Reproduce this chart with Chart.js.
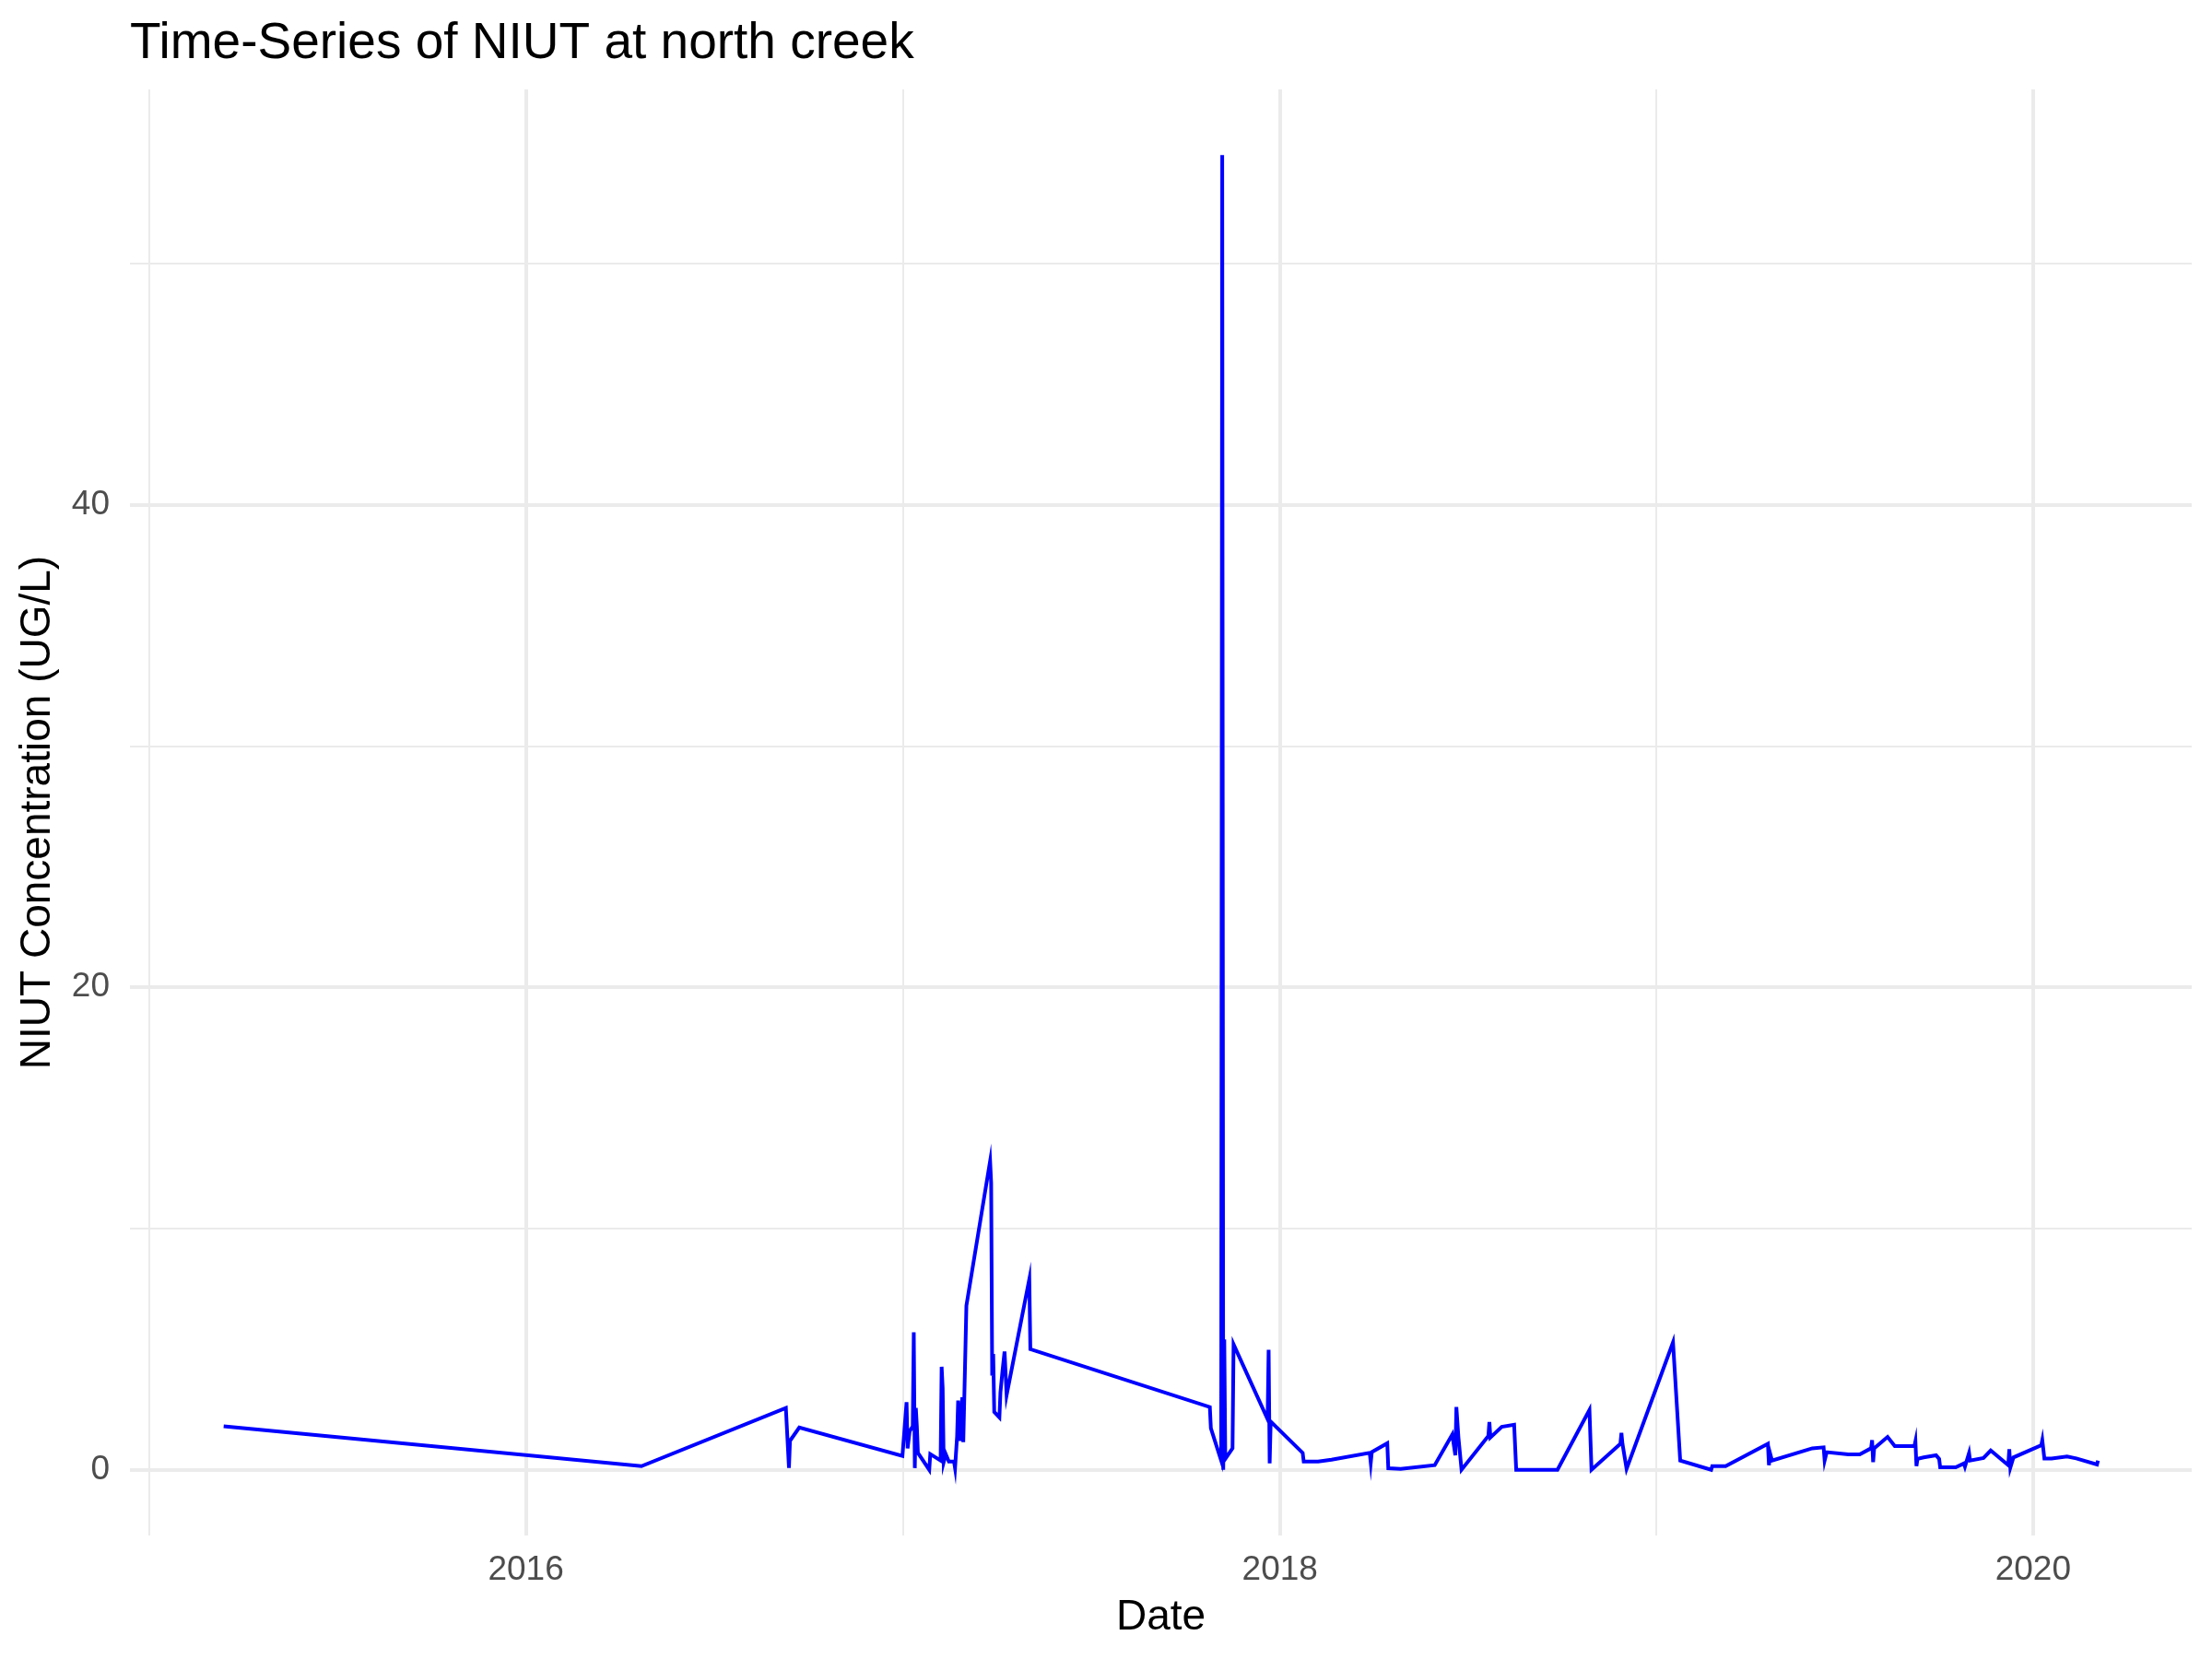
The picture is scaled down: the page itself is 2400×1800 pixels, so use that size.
<!DOCTYPE html>
<html>
<head>
<meta charset="utf-8">
<script src="https://cdn.jsdelivr.net/npm/chart.js@4/dist/chart.umd.min.js"></script>
<style>
  html, body { margin: 0; padding: 0; background: #fff; }
  #wrap { width: 2400px; height: 1800px; }
</style>
</head>
<body>
<div id="wrap"><canvas id="ts-chart" width="2400" height="1800"></canvas></div>
<script>
// sample dates and NIUT readings (UG/L)
const sampleDates = [
  "2015-03-14", "2016-04-22", "2016-09-09", "2016-09-12", "2016-09-13", "2016-09-22", "2016-12-31",
  "2017-01-04", "2017-01-05", "2017-01-07", "2017-01-10", "2017-01-11", "2017-01-12", "2017-01-13",
  "2017-01-14", "2017-01-15", "2017-01-26", "2017-01-27", "2017-02-06", "2017-02-07", "2017-02-08",
  "2017-02-09", "2017-02-11", "2017-02-14", "2017-02-19", "2017-02-20", "2017-02-22", "2017-02-23",
  "2017-02-25", "2017-02-27", "2017-02-28", "2017-03-02", "2017-03-03", "2017-03-26", "2017-03-27",
  "2017-03-28", "2017-03-29", "2017-03-30", "2017-04-04", "2017-04-05", "2017-04-07", "2017-04-09",
  "2017-04-11", "2017-05-03", "2017-05-04", "2017-10-25", "2017-10-26", "2017-11-05", "2017-11-06",
  "2017-11-07", "2017-11-08", "2017-11-09", "2017-11-16", "2017-11-17", "2017-12-20", "2017-12-21",
  "2017-12-22", "2017-12-23",
  "2018-01-23", "2018-01-24", "2018-02-07", "2018-02-20", "2018-03-29", "2018-03-30", "2018-03-31",
  "2018-04-15", "2018-04-16", "2018-04-28", "2018-05-31", "2018-06-17", "2018-06-20", "2018-06-21",
  "2018-06-23", "2018-06-26", "2018-07-22", "2018-07-23", "2018-07-24", "2018-08-04", "2018-08-16",
  "2018-08-18", "2018-09-27", "2018-10-28", "2018-10-30", "2018-11-27", "2018-11-28", "2018-11-29",
  "2018-12-03",
  "2019-01-17", "2019-01-24", "2019-02-23", "2019-02-24", "2019-03-09", "2019-04-19", "2019-04-20",
  "2019-04-21", "2019-04-23", "2019-06-01", "2019-06-12", "2019-06-13", "2019-06-15", "2019-07-06",
  "2019-07-17", "2019-07-28", "2019-07-29", "2019-07-30", "2019-07-31", "2019-08-13", "2019-08-20",
  "2019-09-08", "2019-09-09", "2019-09-10", "2019-09-11", "2019-09-17", "2019-09-29", "2019-10-02",
  "2019-10-03", "2019-10-18", "2019-10-26", "2019-10-27", "2019-10-31", "2019-11-01", "2019-11-14",
  "2019-11-21", "2019-12-08", "2019-12-09", "2019-12-10", "2019-12-13",
  "2020-01-09", "2020-01-10", "2020-01-12", "2020-01-19", "2020-02-03", "2020-02-12", "2020-03-03",
  "2020-03-04"
];
const niutValues = [
  1.8, 0.15, 2.56, 0.08, 1.2, 1.75, 0.57,
  2.8, 0.89, 1.6, 1.8, 5.7, 0.07, 2.56,
  1.8, 0.7, 0.0, 0.65, 0.38, 4.27, 3.4,
  0.32, 0.65, 0.34, 0.34, 0.07, 1.4, 2.87,
  1.2, 3.0, 1.15, 4.9, 6.8, 12.8, 11.9,
  3.9, 4.8, 2.4, 2.17, 3.2, 4.1, 4.9,
  3.1, 7.9, 5.0, 2.6, 1.72, 0.38, 54.5,
  0.0, 5.4, 0.45, 0.89, 5.2, 2.1, 4.97,
  0.27, 2.0,
  0.7, 0.34, 0.34, 0.42, 0.7, 0.29, 0.73,
  1.1, 0.06, 0.04, 0.19, 1.46, 0.6, 2.6,
  1.34, 0.0, 1.4, 1.98, 1.34, 1.78, 1.87,
  0.0, 0.0, 2.48, 0.0, 1.08, 1.53, 1.08,
  0.04,
  5.28, 0.38, 0.0, 0.15, 0.15, 1.08, 0.19,
  0.7, 0.38, 0.89, 0.93, 0.38, 0.73, 0.64,
  0.64, 0.89, 1.23, 0.32, 0.89, 1.36, 0.98,
  0.98, 1.18, 0.15, 0.45, 0.51, 0.6, 0.45,
  0.1, 0.1, 0.26, 0.13, 0.7, 0.38, 0.49,
  0.8, 0.19, 0.85, 0.09, 0.51,
  1.02, 1.23, 0.47, 0.47, 0.55, 0.47, 0.22,
  0.38
];
const yearTicks = [2015, 2016, 2017, 2018, 2019, 2020];
const valueTicks = [0, 10, 20, 30, 40, 50];

const points = sampleDates.map((d, i) => ({ x: Date.parse(d), y: niutValues[i] }));

// ggplot-style 5% expansion on both axes
const xFirst = points[0].x, xLast = points[points.length - 1].x;
const xPad = (xLast - xFirst) * 0.05;
const yTop = Math.max(...niutValues), yBottom = Math.min(...niutValues);
const yPad = (yTop - yBottom) * 0.05;

const gridColor = "#EBEBEB";
const tickColor = "#4D4D4D";

Chart.defaults.font.family = "'Liberation Sans', Arial, sans-serif";

const yearOf = (v) => new Date(v).getUTCFullYear();

var chart = new Chart(document.querySelector("#ts-chart"), {
  type: "line",
  data: {
    datasets: [
      {
        label: "NIUT",
        data: points,
        borderColor: "#0000FF",
        backgroundColor: "#0000FF",
        borderWidth: 4,
        pointRadius: 0,
        tension: 0,
        fill: false
      }
    ]
  },
  options: {
    responsive: false,
    animation: false,
    devicePixelRatio: 1,
    layout: { padding: { left: 0, right: 22, top: 0, bottom: 0 } },
    plugins: {
      legend: { display: false },
      tooltip: { enabled: false },
      title: {
        display: true,
        text: "Time-Series of NIUT at north creek",
        align: "start",
        fullSize: false,
        color: "#000",
        font: { size: 55, weight: "normal", lineHeight: 1.2 },
        padding: { top: 15, bottom: 16 }
      }
    },
    scales: {
      x: {
        type: "linear",
        min: xFirst - xPad,
        max: xLast + xPad,
        afterBuildTicks: (scale) => {
          scale.ticks = yearTicks.map((y) => ({ value: Date.UTC(y, 0, 1) }));
        },
        afterFit: (scale) => { scale.height = 134; },
        border: { display: false },
        grid: {
          color: gridColor,
          drawTicks: false,
          lineWidth: (c) => (c.tick && yearOf(c.tick.value) % 2 === 0 ? 4 : 2)
        },
        ticks: {
          autoSkip: false,
          maxRotation: 0,
          padding: 16,
          color: tickColor,
          font: { size: 37 },
          callback: (v) => (yearOf(v) % 2 === 0 ? String(yearOf(v)) : "")
        },
        title: {
          display: true,
          text: "Date",
          color: "#000",
          font: { size: 46, lineHeight: 1.2 },
          padding: { top: 0, bottom: 17 }
        }
      },
      y: {
        type: "linear",
        min: yBottom - yPad,
        max: yTop + yPad,
        afterBuildTicks: (scale) => {
          scale.ticks = valueTicks.map((v) => ({ value: v }));
        },
        afterFit: (scale) => { scale.width = 141; },
        border: { display: false },
        grid: {
          color: gridColor,
          drawTicks: false,
          lineWidth: (c) => (c.tick && c.tick.value % 20 === 0 ? 4 : 2)
        },
        ticks: {
          autoSkip: false,
          padding: 22,
          color: tickColor,
          font: { size: 37 },
          callback: (v) => (v % 20 === 0 ? String(v) : "")
        },
        title: {
          display: true,
          text: "NIUT Concentration (UG/L)",
          color: "#000",
          font: { size: 46, lineHeight: 1.2 },
          padding: { top: 14, bottom: 0 }
        }
      }
    }
  }
});
</script>
</body>
</html>
